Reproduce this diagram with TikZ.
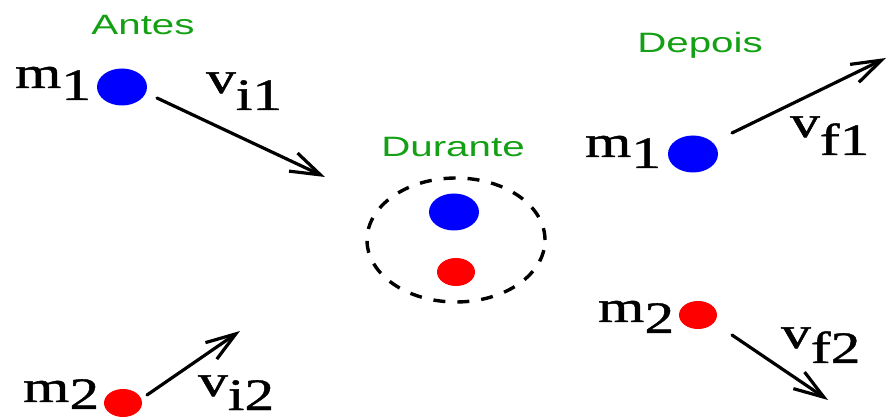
\documentclass[tikz,border=0pt]{standalone}
\usepackage{fontspec}
\setmainfont{Liberation Serif}
\newfontfamily\symfont[FakeBold=0.9]{Liberation Serif}
\newfontfamily\phasefont{Liberation Sans}
\usetikzlibrary{shapes.geometric,arrows.meta}
\definecolor{phasegreen}{RGB}{20,160,20}
\newcommand{\symlab}[3]{\scalebox{1.32}[1]{\symfont\fontsize{45}{48}\selectfont #1\raisebox{-#3pt}{#2}}}
\newcommand{\phasetxt}[1]{\scalebox{1.44}[1]{\phasefont\fontsize{28}{30}\selectfont #1}}
\begin{document}
\begin{tikzpicture}[x=1pt,y=-1pt,
  dot/.style={ellipse, draw=none, inner sep=0pt},
  bigdot/.style={dot, fill=blue, minimum width=50pt, minimum height=37pt},
  smalldot/.style={dot, fill=red, minimum width=38pt, minimum height=28pt},
  phase/.style={text=phasegreen, inner sep=0pt, anchor=base},
  sym/.style={inner sep=0pt, anchor=base west},
  vec/.style={line width=3.2pt, line cap=round, -{Straight Barb[length=30pt,width=20pt]}},
  zone/.style={draw, line width=3.4pt, dash pattern=on 12pt off 12pt}]
\useasboundingbox (0,0) rectangle (889,419);

% phase titles
\node[phase] (antes) at (143,35) {\phasetxt{Antes}};
\node[phase] (durante) at (453,157) {\phasetxt{Durante}};
\node[phase] (depois) at (700,53) {\phasetxt{Depois}};

% before
\node[bigdot] (b1) at (122,87) {};
\node[smalldot] (b2) at (123,403) {};
\node[sym] (lm1a) at (15,88) {\symlab{m}{1}{12}};
\node[sym] (lm2a) at (23,402) {\symlab{m}{2}{7}};
\coordinate (t1) at (157,98);
\coordinate (h1) at (325,177);
\draw[vec] (t1) -- (h1);
\node[sym] (lv1) at (206,93) {\symlab{v}{i1}{17}};
\coordinate (t2) at (147,395);
\coordinate (h2) at (240,331);
\draw[vec] (t2) -- (h2);
\node[sym] (lv2) at (198,396) {\symlab{v}{i2}{14}};

% during
\node[ellipse, zone, minimum width=178pt, minimum height=124pt, inner sep=0pt] (zone) at (456,240) {};
\node[bigdot] (d1) at (454,212) {};
\node[smalldot] (d2) at (456,272) {};

% after
\node[bigdot] (a1) at (693,154) {};
\node[smalldot] (a2) at (698,315) {};
\node[sym] (lm1b) at (585,157) {\symlab{m}{1}{11}};
\node[sym] (lm2b) at (598,322) {\symlab{m}{2}{11}};
\coordinate (t3) at (732,133);
\coordinate (h3) at (886,58);
\draw[vec] (t3) -- (h3);
\node[sym] (lv3) at (790,137) {\symlab{v}{f1}{18}};
\coordinate (t4) at (732,335);
\coordinate (h4) at (828,400);
\draw[vec] (t4) -- (h4);
\node[sym] (lv4) at (781,348) {\symlab{v}{f2}{15}};
\end{tikzpicture}
\end{document}
